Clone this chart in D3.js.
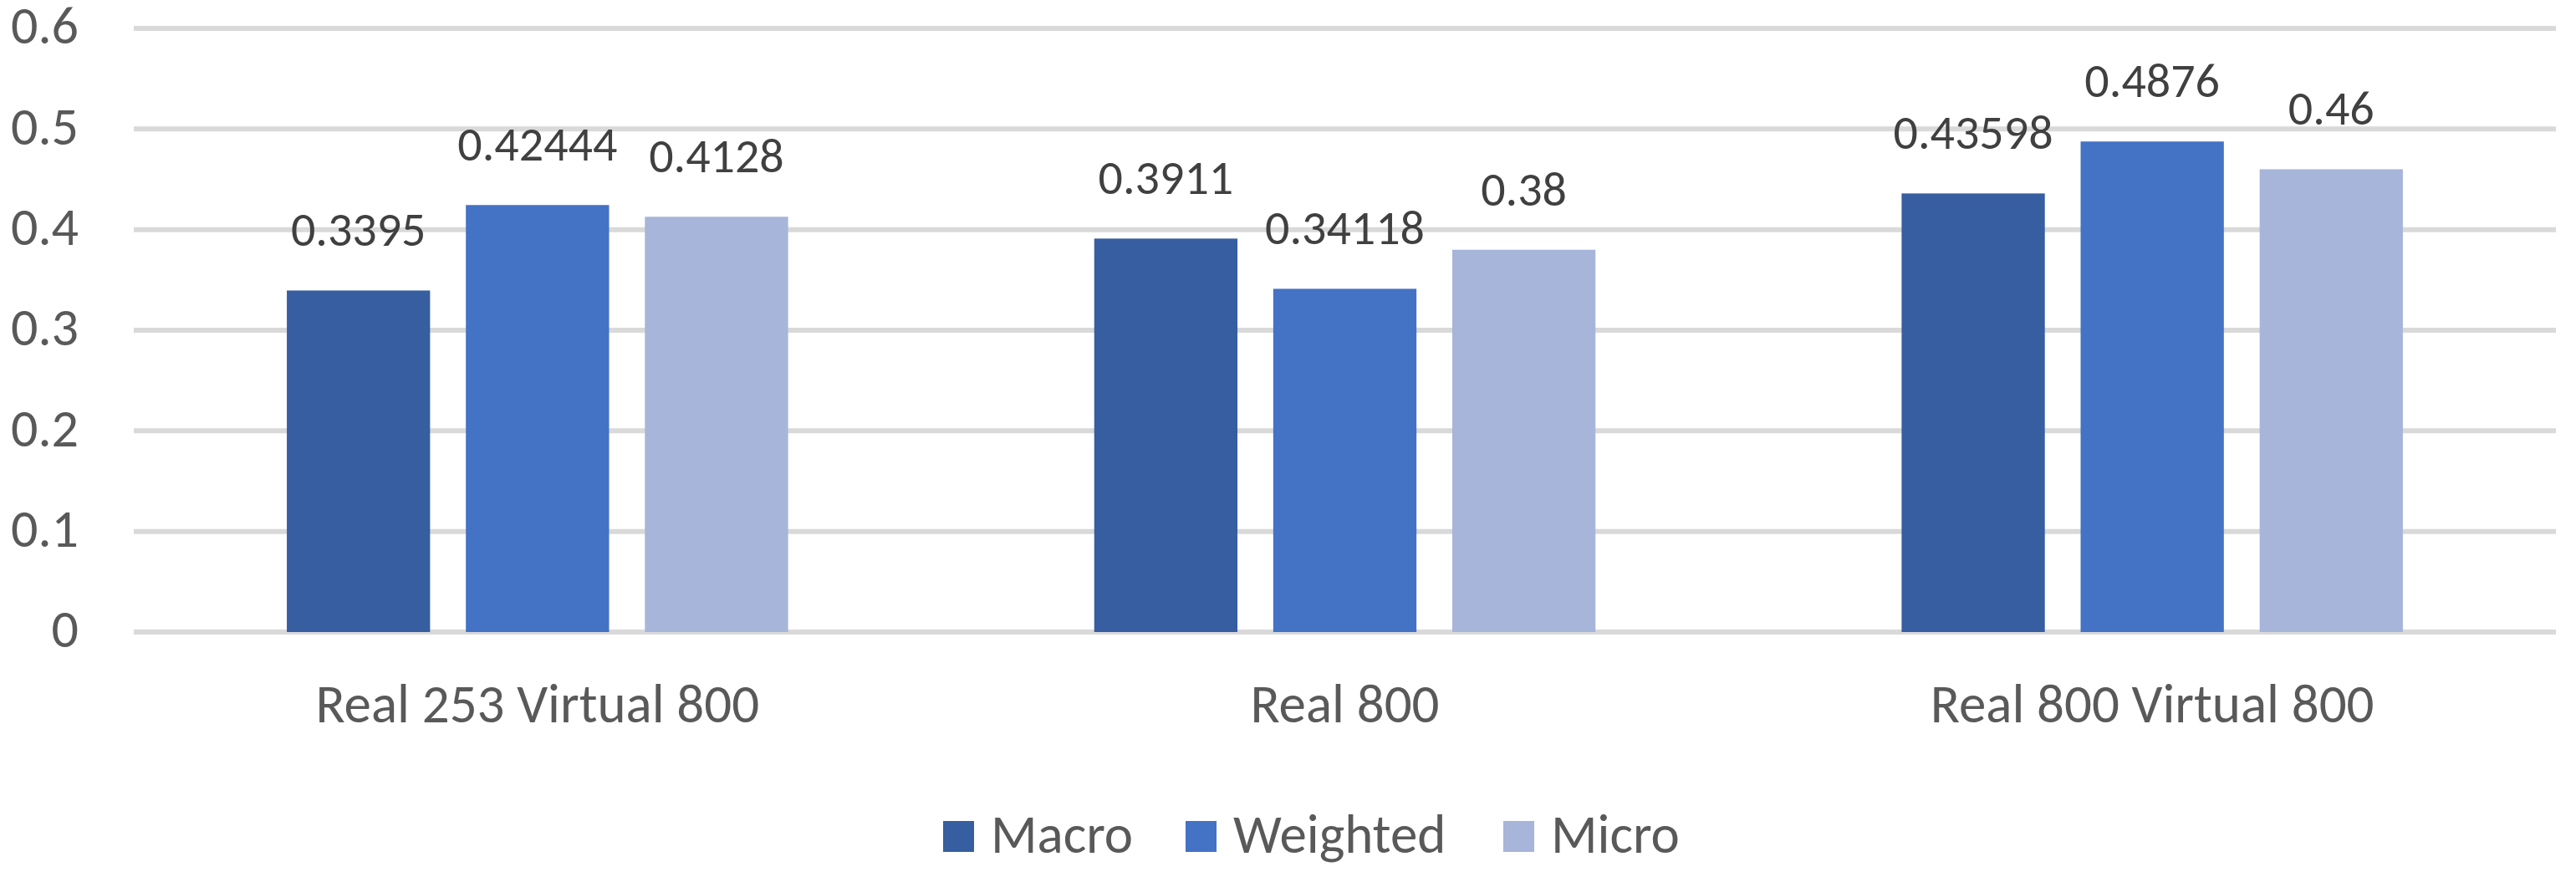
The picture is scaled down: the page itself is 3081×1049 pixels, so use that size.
<!DOCTYPE html>
<html>
<head>
<meta charset="utf-8">
<script src="https://cdn.jsdelivr.net/npm/d3@7"></script>
<style>
  body { margin: 0; background: #fff; }
  svg text { font-family: Carlito, Calibri, Lato, sans-serif; }
</style>
</head>
<body>
<svg></svg>
<script>
var width = 3081;
var height = 1049;

var categories = ["Real 253 Virtual 800", "Real 800", "Real 800 Virtual 800"];
var series = ["Macro", "Weighted", "Micro"];
var macro = [0.3395, 0.3911, 0.43598];
var weighted = [0.42444, 0.34118, 0.4876];
var micro = [0.4128, 0.38, 0.46];
var labels = [
    ["0.3395", "0.42444", "0.4128"],
    ["0.3911", "0.34118", "0.38"],
    ["0.43598", "0.4876", "0.46"]
];
var yTicks = [0, 0.1, 0.2, 0.3, 0.4, 0.5, 0.6];
var colors = ["#365ea0", "#4472c4", "#a7b5da"];

var values = [macro, weighted, micro];

var svg = d3.select("svg")
    .attr("width", width)
    .attr("height", height);

var x = d3.scaleBand()
    .domain(categories)
    .range([160, 3057]);

var xInner = d3.scaleBand()
    .domain(series)
    .range([0, x.bandwidth()])
    .paddingInner(0.2)
    .paddingOuter(0.855);

var y = d3.scaleLinear()
    .domain([0, 0.6])
    .range([756, 34]);

var color = d3.scaleOrdinal()
    .domain(series)
    .range(colors);

// gridlines
svg.append("g")
    .selectAll("line")
    .data(yTicks)
    .enter()
    .append("line")
        .attr("x1", 160)
        .attr("x2", 3057)
        .attr("y1", d => y(d))
        .attr("y2", d => y(d))
        .attr("stroke", "#d9d9d9")
        .attr("stroke-width", 6);

// y axis labels
var yAxis = d3.axisLeft(y)
    .tickValues(yTicks)
    .tickFormat(d => d === 0 ? "0" : d3.format(".1f")(d))
    .tickSize(0)
    .tickPadding(0);

svg.append("g")
    .attr("transform", "translate(94,0)")
    .call(yAxis)
    .call(g => g.select(".domain").remove())
    .selectAll("text")
        .attr("fill", "#595959")
        .style("font-size", "64px")
        .attr("dy", "0.28em");

// bars
var rows = categories.map((c, i) => ({
    category: c,
    items: series.map((s, j) => ({ series: s, value: values[j][i], label: labels[i][j] }))
}));

var groups = svg.append("g")
    .selectAll(".group")
    .data(rows)
    .enter()
    .append("g")
        .classed("group", true)
        .attr("transform", d => `translate(${x(d.category)},0)`);

groups.selectAll("rect")
    .data(d => d.items)
    .enter()
    .append("rect")
        .attr("x", d => xInner(d.series))
        .attr("width", xInner.bandwidth())
        .attr("y", d => y(d.value))
        .attr("height", d => y(0) - y(d.value))
        .attr("fill", d => color(d.series));

groups.selectAll(".value")
    .data(d => d.items)
    .enter()
    .append("text")
        .classed("value", true)
        .attr("x", d => xInner(d.series) + xInner.bandwidth() / 2)
        .attr("y", d => y(d.value) - 53)
        .attr("text-anchor", "middle")
        .attr("fill", "#404040")
        .style("font-size", "58px")
        .text(d => d.label);

// x axis labels
var xAxis = d3.axisBottom(x)
    .tickSize(0)
    .tickPadding(0);

svg.append("g")
    .attr("transform", "translate(0,864)")
    .call(xAxis)
    .call(g => g.select(".domain").remove())
    .selectAll("text")
        .attr("dy", 0)
        .attr("fill", "#595959")
        .style("font-size", "65px");

// legend
var legendX = [1128, 1418, 1798];
var legend = svg.append("g")
    .selectAll(".legend")
    .data(series)
    .enter()
    .append("g")
        .classed("legend", true)
        .attr("transform", (d, i) => `translate(${legendX[i]},982)`);

legend.append("rect")
    .attr("width", 37)
    .attr("height", 37)
    .attr("fill", d => color(d));

legend.append("text")
    .attr("x", 57)
    .attr("y", 38)
    .attr("fill", "#595959")
    .style("font-size", "65px")
    .text(d => d);
</script>
</body>
</html>
